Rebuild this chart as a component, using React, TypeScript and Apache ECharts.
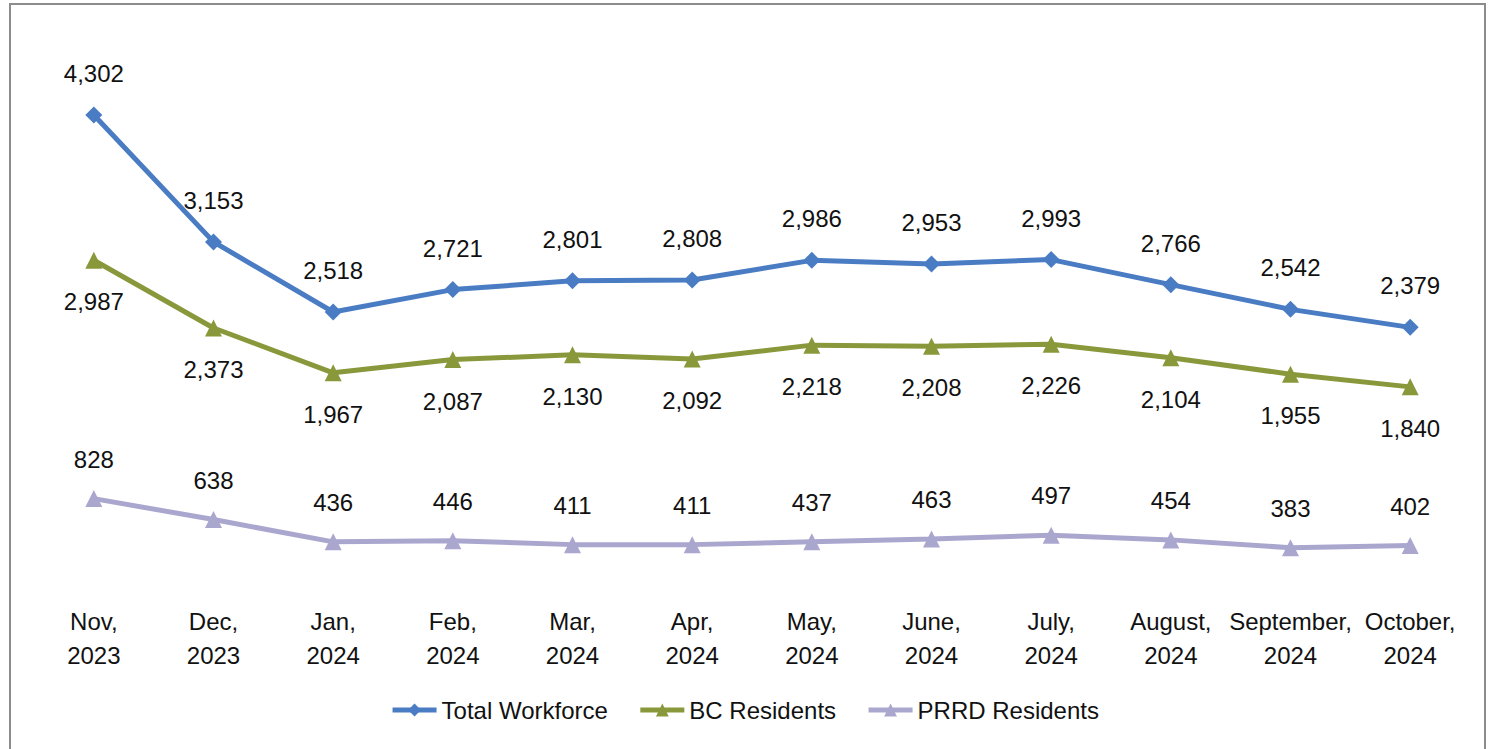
import React, { useEffect, useRef } from "react";
import * as echarts from "echarts";

const categories = [
  "Nov,\n2023", "Dec,\n2023", "Jan,\n2024", "Feb,\n2024", "Mar,\n2024", "Apr,\n2024",
  "May,\n2024", "June,\n2024", "July,\n2024", "August,\n2024", "September,\n2024", "October,\n2024",
];
const totalWorkforce = [4302, 3153, 2518, 2721, 2801, 2808, 2986, 2953, 2993, 2766, 2542, 2379];
const bcResidents = [2987, 2373, 1967, 2087, 2130, 2092, 2218, 2208, 2226, 2104, 1955, 1840];
const prrdResidents = [828, 638, 436, 446, 411, 411, 437, 463, 497, 454, 383, 402];
const seriesNames = ["Total Workforce", "BC Residents", "PRRD Residents"];

const FONT = "'Liberation Sans', Arial, sans-serif";
const fmt = (v: number) => v.toLocaleString("en-US");

export default function App() {
  const ref = useRef<HTMLDivElement>(null);
  useEffect(() => {
    document.body.style.margin = "0";
    const chart = echarts.init(ref.current!, null, { renderer: "svg" });
    const label = (pos: string, dist: number) => ({
      show: true,
      position: pos,
      distance: dist,
      fontFamily: FONT,
      fontSize: 24,
      color: "#111",
      formatter: (p: any) => fmt(p.value),
    });
    chart.setOption({
      animation: false,
      backgroundColor: "#fff",
      grid: { left: 34, right: 19, top: 38, bottom: 159 },
      xAxis: {
        type: "category",
        data: categories,
        boundaryGap: true,
        axisLine: { show: false },
        axisTick: { show: false },
        axisLabel: {
          interval: 0,
          fontFamily: FONT,
          fontSize: 24,
          lineHeight: 34,
          color: "#111",
          margin: 14,
        },
      },
      yAxis: {
        type: "value",
        min: 0,
        max: 5000,
        show: false,
        splitLine: { show: false },
      },
      legend: {
        bottom: 22,
        left: "center",
        itemWidth: 44,
        itemHeight: 16,
        itemGap: 30,
        lineStyle: { width: 5 },
        textStyle: { fontFamily: FONT, fontSize: 24, color: "#111" },
        data: seriesNames,
      },
      graphic: [
        {
          type: "polyline",
          shape: { points: [[10, 760], [10, 4], [1485, 4], [1485, 760]] },
          style: { stroke: "#8c8c8c", lineWidth: 2, fill: "none" },
          silent: true,
        },
      ],
      series: [
        {
          name: seriesNames[0],
          type: "line",
          data: totalWorkforce,
          symbol: "diamond",
          symbolSize: 17,
          lineStyle: { width: 5, color: "#4a7cc4" },
          itemStyle: { color: "#4a7cc4" },
          label: label("top", 21),
        },
        {
          name: seriesNames[1],
          type: "line",
          data: bcResidents,
          symbol: "triangle",
          symbolSize: 17,
          lineStyle: { width: 5, color: "#8a983c" },
          itemStyle: { color: "#8a983c" },
          label: label("bottom", 21),
        },
        {
          name: seriesNames[2],
          type: "line",
          data: prrdResidents,
          symbol: "triangle",
          symbolSize: 17,
          lineStyle: { width: 5, color: "#aaa7cf" },
          itemStyle: { color: "#aaa7cf" },
          label: label("top", 19),
        },
      ],
    });
    return () => chart.dispose();
  }, []);
  return <div ref={ref} style={{ width: 1489, height: 749 }} />;
}
